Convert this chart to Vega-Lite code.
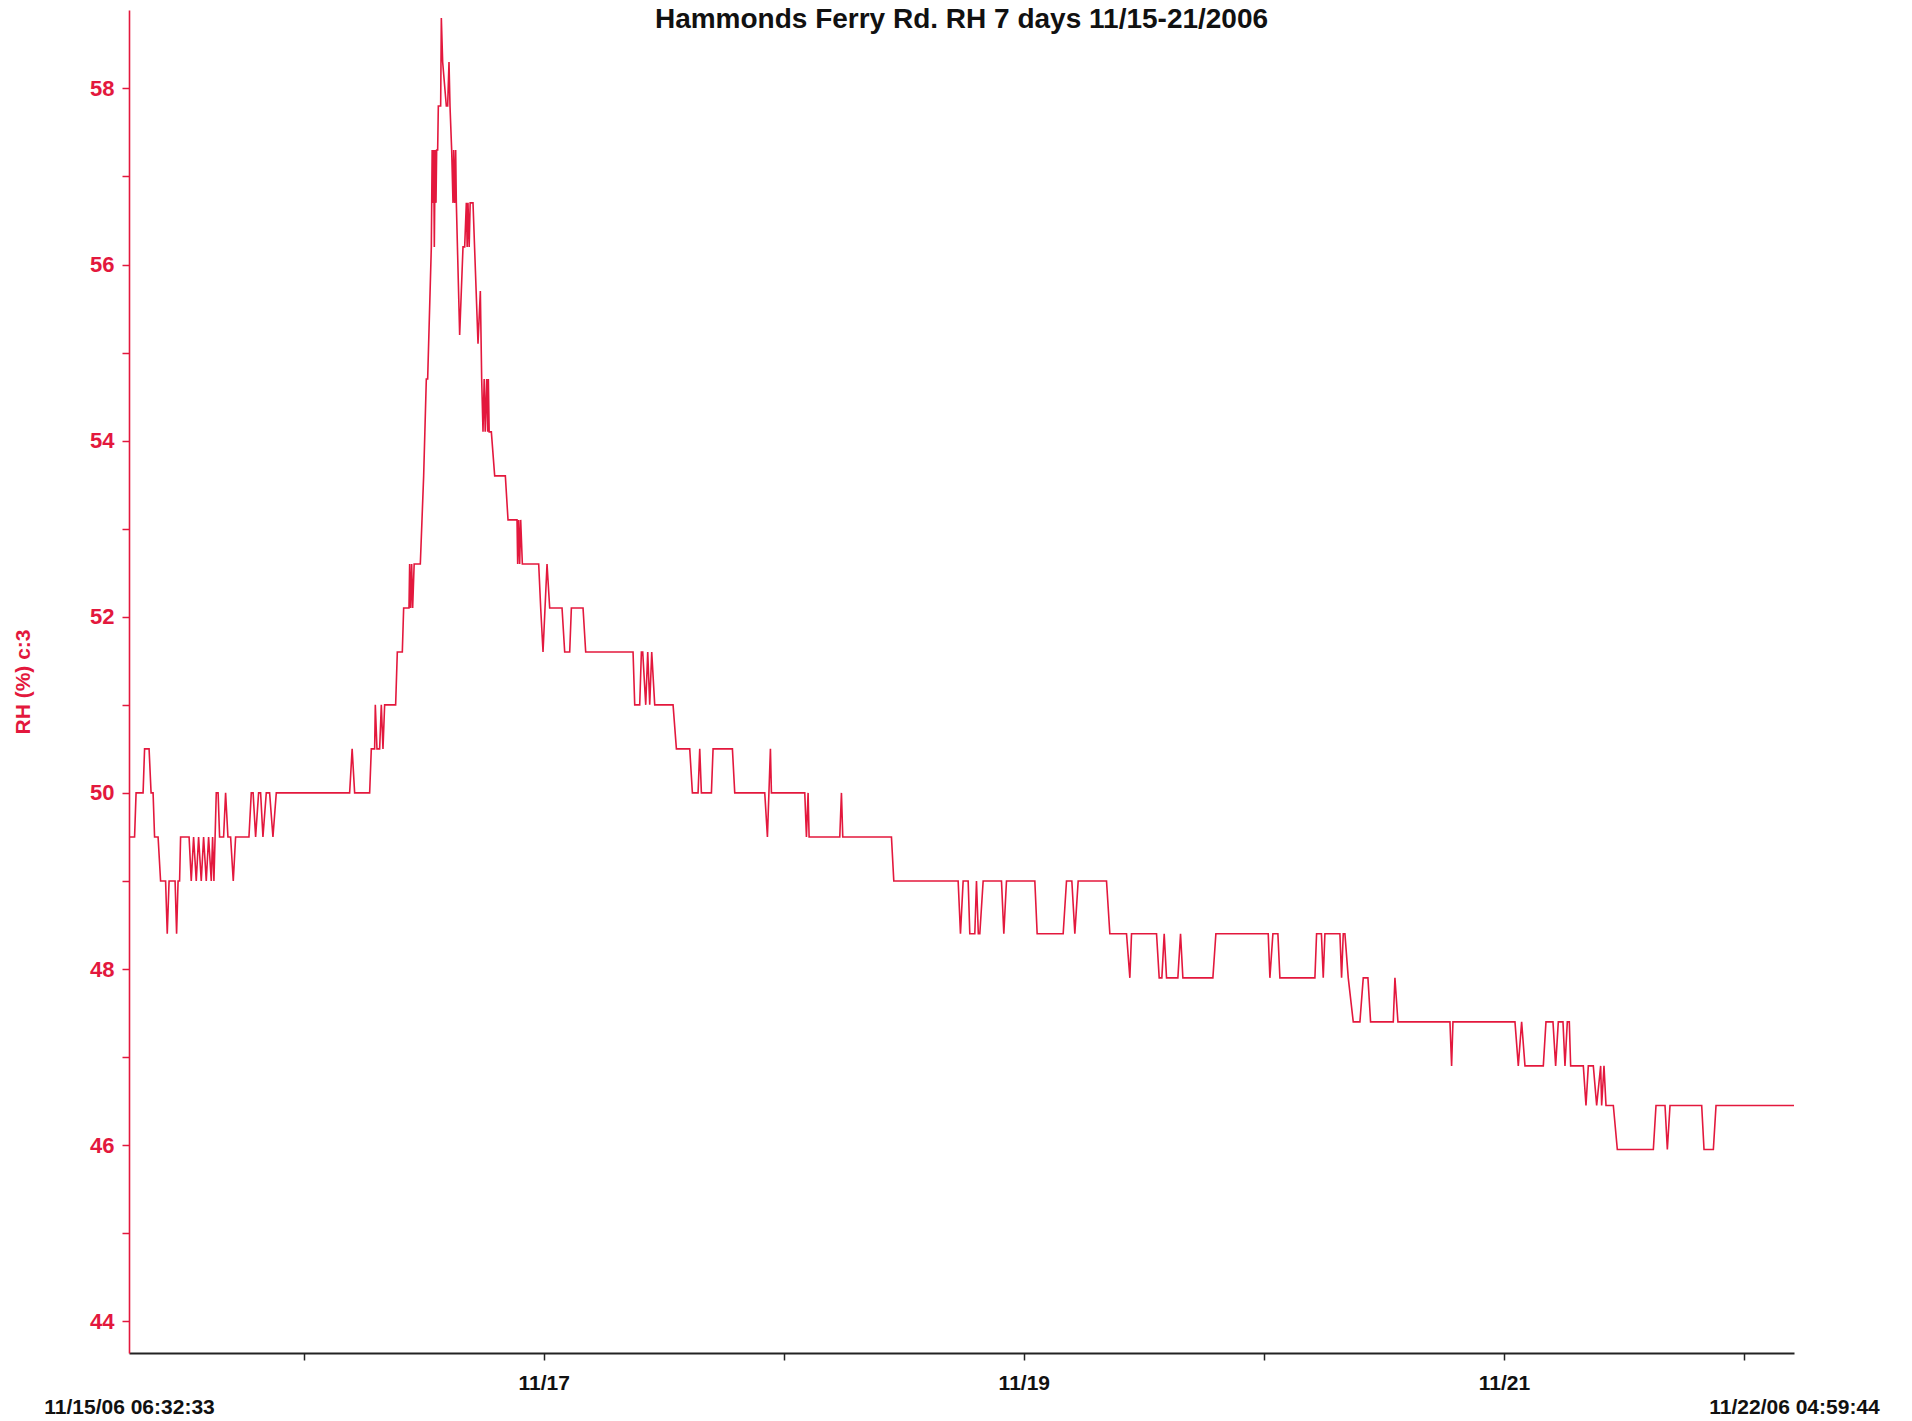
{
  "$schema": "https://vega.github.io/schema/vega-lite/v6.json",
  "autosize": "none",
  "width": 1665,
  "height": 1343,
  "padding": {"left": 129, "top": 10, "right": 118, "bottom": 68},
  "background": "white",
  "config": {"view": {"stroke": null}},
  "title": {
    "text": "Hammonds Ferry Rd. RH 7 days 11/15-21/2006",
    "font": "Liberation Sans",
    "fontSize": 28,
    "fontWeight": "bold",
    "color": "#111111",
    "anchor": "middle",
    "offset": -24
  },
  "data": {
    "values": [
      {"t": "2006-11-15T06:32:33", "rh": 49.5},
      {"t": "2006-11-15T07:06:00", "rh": 49.5},
      {"t": "2006-11-15T07:15:00", "rh": 50.0},
      {"t": "2006-11-15T07:57:00", "rh": 50.0},
      {"t": "2006-11-15T08:06:00", "rh": 50.5},
      {"t": "2006-11-15T08:33:00", "rh": 50.5},
      {"t": "2006-11-15T08:45:00", "rh": 50.0},
      {"t": "2006-11-15T08:57:00", "rh": 50.0},
      {"t": "2006-11-15T09:06:00", "rh": 49.5},
      {"t": "2006-11-15T09:27:00", "rh": 49.5},
      {"t": "2006-11-15T09:42:00", "rh": 49.0},
      {"t": "2006-11-15T10:12:00", "rh": 49.0},
      {"t": "2006-11-15T10:22:00", "rh": 48.4},
      {"t": "2006-11-15T10:33:00", "rh": 49.0},
      {"t": "2006-11-15T11:09:00", "rh": 49.0},
      {"t": "2006-11-15T11:18:00", "rh": 48.4},
      {"t": "2006-11-15T11:27:00", "rh": 49.0},
      {"t": "2006-11-15T11:36:00", "rh": 49.0},
      {"t": "2006-11-15T11:42:00", "rh": 49.5},
      {"t": "2006-11-15T12:33:00", "rh": 49.5},
      {"t": "2006-11-15T12:46:00", "rh": 49.0},
      {"t": "2006-11-15T13:00:00", "rh": 49.5},
      {"t": "2006-11-15T13:16:00", "rh": 49.0},
      {"t": "2006-11-15T13:30:00", "rh": 49.5},
      {"t": "2006-11-15T13:46:00", "rh": 49.0},
      {"t": "2006-11-15T14:00:00", "rh": 49.5},
      {"t": "2006-11-15T14:16:00", "rh": 49.0},
      {"t": "2006-11-15T14:30:00", "rh": 49.5},
      {"t": "2006-11-15T14:46:00", "rh": 49.0},
      {"t": "2006-11-15T14:54:00", "rh": 49.5},
      {"t": "2006-11-15T15:02:00", "rh": 49.0},
      {"t": "2006-11-15T15:16:00", "rh": 50.0},
      {"t": "2006-11-15T15:27:00", "rh": 50.0},
      {"t": "2006-11-15T15:36:00", "rh": 49.5},
      {"t": "2006-11-15T16:00:00", "rh": 49.5},
      {"t": "2006-11-15T16:12:00", "rh": 50.0},
      {"t": "2006-11-15T16:26:00", "rh": 49.5},
      {"t": "2006-11-15T16:42:00", "rh": 49.5},
      {"t": "2006-11-15T16:58:00", "rh": 49.0},
      {"t": "2006-11-15T17:12:00", "rh": 49.5},
      {"t": "2006-11-15T18:32:00", "rh": 49.5},
      {"t": "2006-11-15T18:46:00", "rh": 50.0},
      {"t": "2006-11-15T18:57:00", "rh": 50.0},
      {"t": "2006-11-15T19:12:00", "rh": 49.5},
      {"t": "2006-11-15T19:30:00", "rh": 50.0},
      {"t": "2006-11-15T19:42:00", "rh": 50.0},
      {"t": "2006-11-15T19:56:00", "rh": 49.5},
      {"t": "2006-11-15T20:16:00", "rh": 50.0},
      {"t": "2006-11-15T20:36:00", "rh": 50.0},
      {"t": "2006-11-15T20:56:00", "rh": 49.5},
      {"t": "2006-11-15T21:16:00", "rh": 50.0},
      {"t": "2006-11-16T04:36:00", "rh": 50.0},
      {"t": "2006-11-16T04:51:00", "rh": 50.5},
      {"t": "2006-11-16T05:06:00", "rh": 50.0},
      {"t": "2006-11-16T06:36:00", "rh": 50.0},
      {"t": "2006-11-16T06:46:00", "rh": 50.5},
      {"t": "2006-11-16T07:06:00", "rh": 50.5},
      {"t": "2006-11-16T07:10:00", "rh": 51.0},
      {"t": "2006-11-16T07:20:00", "rh": 50.5},
      {"t": "2006-11-16T07:36:00", "rh": 50.5},
      {"t": "2006-11-16T07:46:00", "rh": 51.0},
      {"t": "2006-11-16T07:56:00", "rh": 50.5},
      {"t": "2006-11-16T08:06:00", "rh": 51.0},
      {"t": "2006-11-16T09:12:00", "rh": 51.0},
      {"t": "2006-11-16T09:22:00", "rh": 51.6},
      {"t": "2006-11-16T09:52:00", "rh": 51.6},
      {"t": "2006-11-16T10:00:00", "rh": 52.1},
      {"t": "2006-11-16T10:32:00", "rh": 52.1},
      {"t": "2006-11-16T10:36:00", "rh": 52.6},
      {"t": "2006-11-16T10:42:00", "rh": 52.1},
      {"t": "2006-11-16T10:48:00", "rh": 52.6},
      {"t": "2006-11-16T10:54:00", "rh": 52.1},
      {"t": "2006-11-16T11:03:00", "rh": 52.6},
      {"t": "2006-11-16T11:40:00", "rh": 52.6},
      {"t": "2006-11-16T12:00:00", "rh": 53.6},
      {"t": "2006-11-16T12:16:00", "rh": 54.7},
      {"t": "2006-11-16T12:24:00", "rh": 54.7},
      {"t": "2006-11-16T12:46:00", "rh": 56.2},
      {"t": "2006-11-16T12:51:00", "rh": 57.3},
      {"t": "2006-11-16T12:56:00", "rh": 56.7},
      {"t": "2006-11-16T13:00:00", "rh": 57.3},
      {"t": "2006-11-16T13:04:00", "rh": 56.2},
      {"t": "2006-11-16T13:09:00", "rh": 57.3},
      {"t": "2006-11-16T13:14:00", "rh": 56.7},
      {"t": "2006-11-16T13:18:00", "rh": 57.3},
      {"t": "2006-11-16T13:24:00", "rh": 57.3},
      {"t": "2006-11-16T13:28:00", "rh": 57.8},
      {"t": "2006-11-16T13:42:00", "rh": 57.8},
      {"t": "2006-11-16T13:46:00", "rh": 58.8},
      {"t": "2006-11-16T13:54:00", "rh": 58.3},
      {"t": "2006-11-16T14:16:00", "rh": 57.8},
      {"t": "2006-11-16T14:24:00", "rh": 57.8},
      {"t": "2006-11-16T14:32:00", "rh": 58.3},
      {"t": "2006-11-16T14:38:00", "rh": 57.8},
      {"t": "2006-11-16T14:48:00", "rh": 57.3},
      {"t": "2006-11-16T14:56:00", "rh": 56.7},
      {"t": "2006-11-16T15:00:00", "rh": 57.3},
      {"t": "2006-11-16T15:06:00", "rh": 56.7},
      {"t": "2006-11-16T15:12:00", "rh": 57.3},
      {"t": "2006-11-16T15:16:00", "rh": 56.7},
      {"t": "2006-11-16T15:36:00", "rh": 55.2},
      {"t": "2006-11-16T15:56:00", "rh": 56.2},
      {"t": "2006-11-16T16:06:00", "rh": 56.2},
      {"t": "2006-11-16T16:16:00", "rh": 56.7},
      {"t": "2006-11-16T16:21:00", "rh": 56.2},
      {"t": "2006-11-16T16:26:00", "rh": 56.7},
      {"t": "2006-11-16T16:33:00", "rh": 56.2},
      {"t": "2006-11-16T16:39:00", "rh": 56.7},
      {"t": "2006-11-16T16:56:00", "rh": 56.7},
      {"t": "2006-11-16T17:26:00", "rh": 55.1},
      {"t": "2006-11-16T17:40:00", "rh": 55.7},
      {"t": "2006-11-16T17:48:00", "rh": 54.7},
      {"t": "2006-11-16T17:56:00", "rh": 54.1},
      {"t": "2006-11-16T18:03:00", "rh": 54.7},
      {"t": "2006-11-16T18:09:00", "rh": 54.1},
      {"t": "2006-11-16T18:18:00", "rh": 54.7},
      {"t": "2006-11-16T18:24:00", "rh": 54.1},
      {"t": "2006-11-16T18:28:00", "rh": 54.7},
      {"t": "2006-11-16T18:33:00", "rh": 54.1},
      {"t": "2006-11-16T18:46:00", "rh": 54.1},
      {"t": "2006-11-16T19:06:00", "rh": 53.6},
      {"t": "2006-11-16T20:10:00", "rh": 53.6},
      {"t": "2006-11-16T20:26:00", "rh": 53.1},
      {"t": "2006-11-16T21:20:00", "rh": 53.1},
      {"t": "2006-11-16T21:24:00", "rh": 52.6},
      {"t": "2006-11-16T21:30:00", "rh": 53.1},
      {"t": "2006-11-16T21:36:00", "rh": 52.6},
      {"t": "2006-11-16T21:42:00", "rh": 53.1},
      {"t": "2006-11-16T21:52:00", "rh": 52.6},
      {"t": "2006-11-16T23:30:00", "rh": 52.6},
      {"t": "2006-11-16T23:42:00", "rh": 52.1},
      {"t": "2006-11-16T23:56:00", "rh": 51.6},
      {"t": "2006-11-17T00:20:00", "rh": 52.6},
      {"t": "2006-11-17T00:36:00", "rh": 52.1},
      {"t": "2006-11-17T01:50:00", "rh": 52.1},
      {"t": "2006-11-17T02:06:00", "rh": 51.6},
      {"t": "2006-11-17T02:36:00", "rh": 51.6},
      {"t": "2006-11-17T02:46:00", "rh": 52.1},
      {"t": "2006-11-17T03:56:00", "rh": 52.1},
      {"t": "2006-11-17T04:12:00", "rh": 51.6},
      {"t": "2006-11-17T08:56:00", "rh": 51.6},
      {"t": "2006-11-17T09:06:00", "rh": 51.0},
      {"t": "2006-11-17T09:36:00", "rh": 51.0},
      {"t": "2006-11-17T09:46:00", "rh": 51.6},
      {"t": "2006-11-17T09:54:00", "rh": 51.6},
      {"t": "2006-11-17T10:12:00", "rh": 51.0},
      {"t": "2006-11-17T10:24:00", "rh": 51.6},
      {"t": "2006-11-17T10:36:00", "rh": 51.0},
      {"t": "2006-11-17T10:48:00", "rh": 51.6},
      {"t": "2006-11-17T11:06:00", "rh": 51.0},
      {"t": "2006-11-17T12:56:00", "rh": 51.0},
      {"t": "2006-11-17T13:16:00", "rh": 50.5},
      {"t": "2006-11-17T14:36:00", "rh": 50.5},
      {"t": "2006-11-17T14:52:00", "rh": 50.0},
      {"t": "2006-11-17T15:26:00", "rh": 50.0},
      {"t": "2006-11-17T15:36:00", "rh": 50.5},
      {"t": "2006-11-17T15:46:00", "rh": 50.0},
      {"t": "2006-11-17T16:46:00", "rh": 50.0},
      {"t": "2006-11-17T16:56:00", "rh": 50.5},
      {"t": "2006-11-17T18:52:00", "rh": 50.5},
      {"t": "2006-11-17T19:06:00", "rh": 50.0},
      {"t": "2006-11-17T22:06:00", "rh": 50.0},
      {"t": "2006-11-17T22:22:00", "rh": 49.5},
      {"t": "2006-11-17T22:40:00", "rh": 50.5},
      {"t": "2006-11-17T22:46:00", "rh": 50.0},
      {"t": "2006-11-18T02:06:00", "rh": 50.0},
      {"t": "2006-11-18T02:16:00", "rh": 49.5},
      {"t": "2006-11-18T02:26:00", "rh": 50.0},
      {"t": "2006-11-18T02:32:00", "rh": 49.5},
      {"t": "2006-11-18T05:36:00", "rh": 49.5},
      {"t": "2006-11-18T05:46:00", "rh": 50.0},
      {"t": "2006-11-18T05:54:00", "rh": 49.5},
      {"t": "2006-11-18T10:46:00", "rh": 49.5},
      {"t": "2006-11-18T11:00:00", "rh": 49.0},
      {"t": "2006-11-18T17:26:00", "rh": 49.0},
      {"t": "2006-11-18T17:40:00", "rh": 48.4},
      {"t": "2006-11-18T17:56:00", "rh": 49.0},
      {"t": "2006-11-18T18:26:00", "rh": 49.0},
      {"t": "2006-11-18T18:36:00", "rh": 48.4},
      {"t": "2006-11-18T19:06:00", "rh": 48.4},
      {"t": "2006-11-18T19:16:00", "rh": 49.0},
      {"t": "2006-11-18T19:27:00", "rh": 48.4},
      {"t": "2006-11-18T19:36:00", "rh": 48.4},
      {"t": "2006-11-18T19:56:00", "rh": 49.0},
      {"t": "2006-11-18T21:46:00", "rh": 49.0},
      {"t": "2006-11-18T22:00:00", "rh": 48.4},
      {"t": "2006-11-18T22:16:00", "rh": 49.0},
      {"t": "2006-11-19T01:06:00", "rh": 49.0},
      {"t": "2006-11-19T01:20:00", "rh": 48.4},
      {"t": "2006-11-19T03:56:00", "rh": 48.4},
      {"t": "2006-11-19T04:16:00", "rh": 49.0},
      {"t": "2006-11-19T04:48:00", "rh": 49.0},
      {"t": "2006-11-19T05:06:00", "rh": 48.4},
      {"t": "2006-11-19T05:26:00", "rh": 49.0},
      {"t": "2006-11-19T08:16:00", "rh": 49.0},
      {"t": "2006-11-19T08:36:00", "rh": 48.4},
      {"t": "2006-11-19T10:16:00", "rh": 48.4},
      {"t": "2006-11-19T10:36:00", "rh": 47.9},
      {"t": "2006-11-19T10:46:00", "rh": 48.4},
      {"t": "2006-11-19T13:16:00", "rh": 48.4},
      {"t": "2006-11-19T13:32:00", "rh": 47.9},
      {"t": "2006-11-19T13:48:00", "rh": 47.9},
      {"t": "2006-11-19T14:02:00", "rh": 48.4},
      {"t": "2006-11-19T14:16:00", "rh": 47.9},
      {"t": "2006-11-19T15:24:00", "rh": 47.9},
      {"t": "2006-11-19T15:40:00", "rh": 48.4},
      {"t": "2006-11-19T15:54:00", "rh": 47.9},
      {"t": "2006-11-19T18:54:00", "rh": 47.9},
      {"t": "2006-11-19T19:12:00", "rh": 48.4},
      {"t": "2006-11-20T00:26:00", "rh": 48.4},
      {"t": "2006-11-20T00:36:00", "rh": 47.9},
      {"t": "2006-11-20T00:54:00", "rh": 48.4},
      {"t": "2006-11-20T01:24:00", "rh": 48.4},
      {"t": "2006-11-20T01:36:00", "rh": 47.9},
      {"t": "2006-11-20T05:06:00", "rh": 47.9},
      {"t": "2006-11-20T05:16:00", "rh": 48.4},
      {"t": "2006-11-20T05:45:00", "rh": 48.4},
      {"t": "2006-11-20T05:56:00", "rh": 47.9},
      {"t": "2006-11-20T06:06:00", "rh": 48.4},
      {"t": "2006-11-20T07:36:00", "rh": 48.4},
      {"t": "2006-11-20T07:46:00", "rh": 47.9},
      {"t": "2006-11-20T07:56:00", "rh": 48.4},
      {"t": "2006-11-20T08:06:00", "rh": 48.4},
      {"t": "2006-11-20T08:26:00", "rh": 47.9},
      {"t": "2006-11-20T08:56:00", "rh": 47.4},
      {"t": "2006-11-20T09:36:00", "rh": 47.4},
      {"t": "2006-11-20T09:56:00", "rh": 47.9},
      {"t": "2006-11-20T10:24:00", "rh": 47.9},
      {"t": "2006-11-20T10:40:00", "rh": 47.4},
      {"t": "2006-11-20T12:56:00", "rh": 47.4},
      {"t": "2006-11-20T13:06:00", "rh": 47.9},
      {"t": "2006-11-20T13:24:00", "rh": 47.4},
      {"t": "2006-11-20T18:36:00", "rh": 47.4},
      {"t": "2006-11-20T18:46:00", "rh": 46.9},
      {"t": "2006-11-20T18:54:00", "rh": 47.4},
      {"t": "2006-11-21T01:06:00", "rh": 47.4},
      {"t": "2006-11-21T01:26:00", "rh": 46.9},
      {"t": "2006-11-21T01:46:00", "rh": 47.4},
      {"t": "2006-11-21T02:06:00", "rh": 46.9},
      {"t": "2006-11-21T03:56:00", "rh": 46.9},
      {"t": "2006-11-21T04:12:00", "rh": 47.4},
      {"t": "2006-11-21T04:54:00", "rh": 47.4},
      {"t": "2006-11-21T05:10:00", "rh": 46.9},
      {"t": "2006-11-21T05:26:00", "rh": 47.4},
      {"t": "2006-11-21T05:54:00", "rh": 47.4},
      {"t": "2006-11-21T06:06:00", "rh": 46.9},
      {"t": "2006-11-21T06:20:00", "rh": 47.4},
      {"t": "2006-11-21T06:32:00", "rh": 47.4},
      {"t": "2006-11-21T06:40:00", "rh": 46.9},
      {"t": "2006-11-21T07:56:00", "rh": 46.9},
      {"t": "2006-11-21T08:12:00", "rh": 46.45},
      {"t": "2006-11-21T08:26:00", "rh": 46.9},
      {"t": "2006-11-21T08:56:00", "rh": 46.9},
      {"t": "2006-11-21T09:16:00", "rh": 46.45},
      {"t": "2006-11-21T09:40:00", "rh": 46.9},
      {"t": "2006-11-21T09:46:00", "rh": 46.45},
      {"t": "2006-11-21T10:00:00", "rh": 46.9},
      {"t": "2006-11-21T10:12:00", "rh": 46.45},
      {"t": "2006-11-21T10:56:00", "rh": 46.45},
      {"t": "2006-11-21T11:20:00", "rh": 45.95},
      {"t": "2006-11-21T14:56:00", "rh": 45.95},
      {"t": "2006-11-21T15:12:00", "rh": 46.45},
      {"t": "2006-11-21T16:06:00", "rh": 46.45},
      {"t": "2006-11-21T16:20:00", "rh": 45.95},
      {"t": "2006-11-21T16:36:00", "rh": 46.45},
      {"t": "2006-11-21T19:46:00", "rh": 46.45},
      {"t": "2006-11-21T20:00:00", "rh": 45.95},
      {"t": "2006-11-21T20:56:00", "rh": 45.95},
      {"t": "2006-11-21T21:12:00", "rh": 46.45},
      {"t": "2006-11-22T04:59:44", "rh": 46.45}
    ]
  },
  "mark": {"type": "line", "color": "#e3183d", "strokeWidth": 1.6, "interpolate": "linear"},
  "encoding": {
    "x": {
      "field": "t",
      "type": "temporal",
      "scale": {
        "domain": [
          {"year": 2006, "month": 11, "date": 15, "hours": 6, "minutes": 32, "seconds": 33},
          {"year": 2006, "month": 11, "date": 22, "hours": 4, "minutes": 59, "seconds": 44}
        ],
        "nice": false
      },
      "axis": {
        "title": null,
        "grid": false,
        "values": [
          {"year": 2006, "month": 11, "date": 15, "hours": 6, "minutes": 32, "seconds": 33},
          {"year": 2006, "month": 11, "date": 16},
          {"year": 2006, "month": 11, "date": 17},
          {"year": 2006, "month": 11, "date": 18},
          {"year": 2006, "month": 11, "date": 19},
          {"year": 2006, "month": 11, "date": 20},
          {"year": 2006, "month": 11, "date": 21},
          {"year": 2006, "month": 11, "date": 22},
          {"year": 2006, "month": 11, "date": 22, "hours": 4, "minutes": 59, "seconds": 44}
        ],
        "labelExpr": "(hours(datum.value) == 0 && minutes(datum.value) == 0) ? (date(datum.value) % 2 == 1 ? timeFormat(datum.value, '%m/%d') : '') : timeFormat(datum.value, '%m/%d/%y %H:%M:%S')",
        "labelOverlap": false,
        "labelFlush": false,
        "labelBound": false,
        "labelAngle": 0,
        "labelFont": "Liberation Sans",
        "labelFontSize": 21,
        "labelFontWeight": "bold",
        "labelColor": "#111111",
        "labelPadding": {"condition": {"test": "hours(datum.value) != 0 || minutes(datum.value) != 0", "value": 36}, "value": 12},
        "tickOpacity": {"condition": {"test": "hours(datum.value) != 0 || minutes(datum.value) != 0", "value": 0}, "value": 1},
        "tickSize": 7,
        "tickColor": "#222222",
        "tickWidth": 1.5,
        "domainColor": "#222222",
        "domainWidth": 2
      }
    },
    "y": {
      "field": "rh",
      "type": "quantitative",
      "scale": {"domain": [43.64, 58.89], "nice": false, "zero": false},
      "axis": {
        "title": "RH (%) c:3",
        "titleFont": "Liberation Sans",
        "titleFontSize": 21,
        "titleFontWeight": "bold",
        "titleColor": "#e3183d",
        "titlePadding": 56,
        "grid": false,
        "values": [44, 45, 46, 47, 48, 49, 50, 51, 52, 53, 54, 55, 56, 57, 58],
        "labelExpr": "datum.value % 2 == 0 ? datum.label : ''",
        "format": "d",
        "labelFont": "Liberation Sans",
        "labelFontSize": 22,
        "labelFontWeight": "bold",
        "labelColor": "#e3183d",
        "labelPadding": 8,
        "tickSize": 7,
        "tickColor": "#e3183d",
        "tickWidth": 1.5,
        "domainColor": "#e3183d",
        "domainWidth": 1.6
      }
    }
  }
}
